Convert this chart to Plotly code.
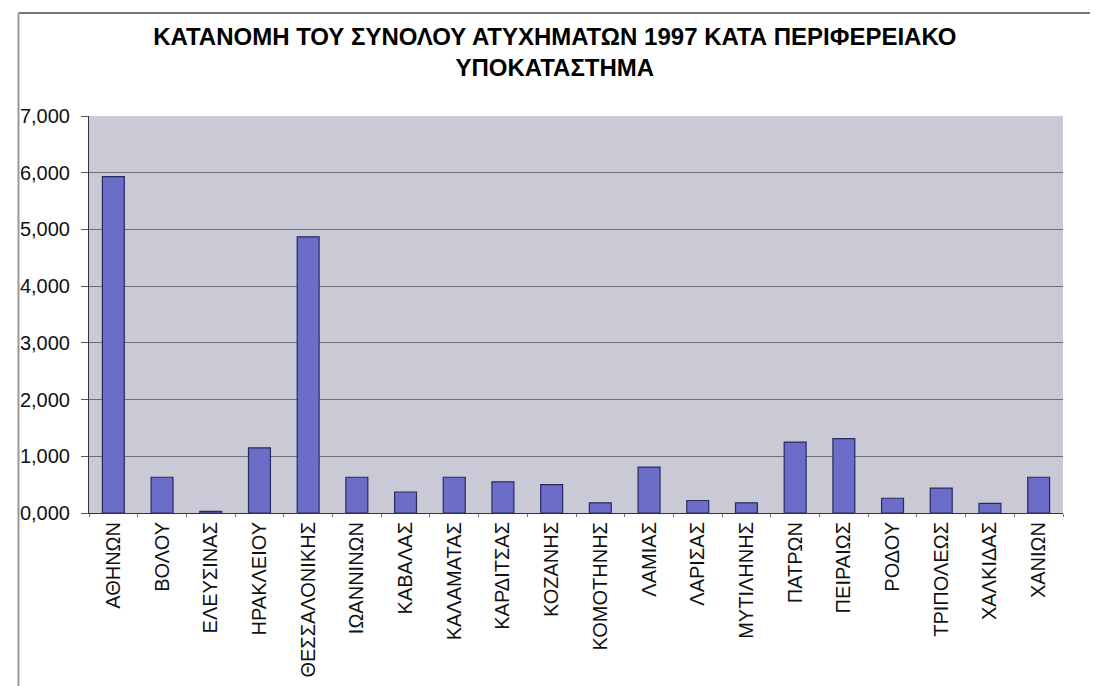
import plotly.graph_objects as go

categories = ["ΑΘΗΝΩΝ", "ΒΟΛΟΥ", "ΕΛΕΥΣΙΝΑΣ", "ΗΡΑΚΛΕΙΟΥ", "ΘΕΣΣΑΛΟΝΙΚΗΣ", "ΙΩΑΝΝΙΝΩΝ",
              "ΚΑΒΑΛΑΣ", "ΚΑΛΑΜΑΤΑΣ", "ΚΑΡΔΙΤΣΑΣ", "ΚΟΖΑΝΗΣ", "ΚΟΜΟΤΗΝΗΣ", "ΛΑΜΙΑΣ",
              "ΛΑΡΙΣΑΣ", "ΜΥΤΙΛΗΝΗΣ", "ΠΑΤΡΩΝ", "ΠΕΙΡΑΙΩΣ", "ΡΟΔΟΥ", "ΤΡΙΠΟΛΕΩΣ",
              "ΧΑΛΚΙΔΑΣ", "ΧΑΝΙΩΝ"]
accidents = [5930, 630, 30, 1150, 4870, 630, 370, 630, 550, 500, 180, 810,
             220, 180, 1250, 1310, 260, 440, 170, 630]

tick_vals = [0, 1000, 2000, 3000, 4000, 5000, 6000, 7000]
tick_text = ["0,000", "1,000", "2,000", "3,000", "4,000", "5,000", "6,000", "7,000"]

title_text = "ΚΑΤΑΝΟΜΗ ΤΟΥ ΣΥΝΟΛΟΥ ΑΤΥΧΗΜΑΤΩΝ 1997 ΚΑΤΑ ΠΕΡΙΦΕΡΕΙΑΚΟ<br>ΥΠΟΚΑΤΑΣΤΗΜΑ"

FONT = "Liberation Sans, Arial, sans-serif"

fig = go.Figure(go.Bar(
    x=categories, y=accidents,
    marker=dict(color="#6c6cc9", line=dict(color="#2a2a60", width=1.2)),
))

L, R, T, B = 74, 43, 108, 181
PW, PH = 1098 - L - R, 686 - T - B

fig.update_layout(
    width=1098, height=686,
    margin=dict(l=L, r=R, t=T, b=B),
    paper_bgcolor="white",
    plot_bgcolor="#cacad6",
    bargap=0.55,
    showlegend=False,
    font=dict(family=FONT, color="#111111"),
    title=dict(text="<b>" + title_text + "</b>", x=0.498, xanchor="center",
               y=1 - 37 / 686, yanchor="middle", yref="container",
               font=dict(size=24, family=FONT, color="#000000")),
)

fig.update_yaxes(
    range=[0, 7000], tickvals=tick_vals, ticktext=tick_text,
    showgrid=True, gridcolor="#6f6f7c", gridwidth=1,
    showline=True, linecolor="#333333", linewidth=1,
    ticks="outside", ticklen=7, tickcolor="#555555",
    ticklabelstandoff=7,
    tickfont=dict(size=20, color="#111111"),
    zeroline=False, fixedrange=True,
)
fig.update_xaxes(
    tickangle=-90, tickfont=dict(size=20, color="#111111"),
    showline=True, linecolor="#333333", linewidth=1,
    ticks="outside", ticklen=3, tickcolor="#777777", tickson="boundaries",
    showgrid=False, fixedrange=True,
)

# outer chart frame (top and left edges visible in the reference)
fy = (PH + T - 5) / PH
fx = (3 - L) / PW
fig.add_shape(type="line", xref="paper", yref="paper",
              x0=fx, x1=(1100 - L) / PW, y0=fy, y1=fy,
              line=dict(color="#777777", width=2))
fig.add_shape(type="line", xref="paper", yref="paper",
              x0=fx, x1=fx, y0=fy, y1=-(B + 5) / PH,
              line=dict(color="#999999", width=2))

fig.write_html("out.html")
